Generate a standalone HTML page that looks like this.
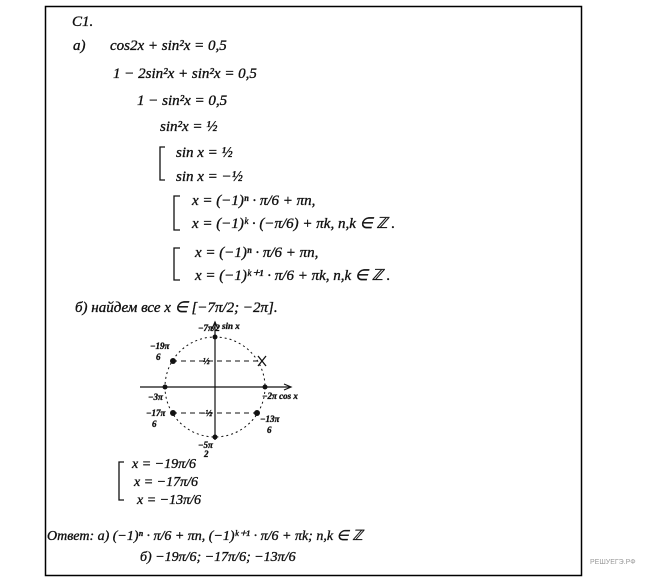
<!DOCTYPE html>
<html><head><meta charset="utf-8"><style>
html,body{margin:0;padding:0;background:#fff;}
svg{display:block}
text{font-family:"Liberation Serif",serif;font-style:italic;fill:#111;stroke:#111;stroke-width:0.35;}
</style></head><body>
<svg width="650" height="580" viewBox="0 0 650 580" xmlns="http://www.w3.org/2000/svg">
<rect x="45.5" y="6.5" width="536" height="569" fill="none" stroke="#000" stroke-width="1.5"/>
<g fill="none" stroke="#111" stroke-width="1.3">
<path d="M165 147 H160 V180 H165"/>
<path d="M180 196 H174 V230 H180"/>
<path d="M180 248 H174 V280 H180"/>
<path d="M124 462 H119 V500 H124"/>
</g>
<g font-size="15">
<text x="72" y="26">C1.</text>
<text x="73" y="50">a)</text>
<text x="110" y="50">cos2x + sin²x = 0,5</text>
<text x="113" y="78">1 − 2sin²x + sin²x = 0,5</text>
<text x="137" y="105">1 − sin²x = 0,5</text>
<text x="160" y="131">sin²x = ½</text>
<text x="176" y="157">sin x = ½</text>
<text x="176" y="181">sin x = −½</text>
<text x="192" y="205">x = (−1)ⁿ · π/6 + πn,</text>
<text x="192" y="228">x = (−1)ᵏ · (−π/6) + πk, n,k ∈ ℤ .</text>
<text x="195" y="257">x = (−1)ⁿ · π/6 + πn,</text>
<text x="195" y="280">x = (−1)ᵏ⁺¹ · π/6 + πk, n,k ∈ ℤ .</text>
<text x="75" y="312">б)   найдем  все  x ∈ [−7π/2; −2π].</text>
</g>
<g stroke="#111" fill="none">
<line x1="140" y1="387" x2="290" y2="387" stroke-width="1.2"/>
<path d="M284 384 L291 387 L284 390" stroke-width="1.2"/>
<line x1="215" y1="440" x2="215" y2="322" stroke-width="1.2"/>
<path d="M212 329 L215 322 L218 329" stroke-width="1.2"/>
<circle cx="215" cy="387" r="50" stroke-dasharray="2,3" stroke-width="1"/>
<line x1="172" y1="361" x2="258" y2="361" stroke-dasharray="5,4"/>
<line x1="172" y1="413" x2="258" y2="413" stroke-dasharray="5,4"/>
<path d="M258 356 l8 10 M266 356 l-8 10" stroke-width="1.3"/>
</g>
<g fill="#111">
<circle cx="215" cy="337" r="2.5"/><circle cx="215" cy="437" r="2.5"/>
<circle cx="165" cy="387" r="2.5"/><circle cx="265" cy="387" r="2.5"/>
<circle cx="173" cy="361" r="3"/><circle cx="173" cy="413" r="3"/><circle cx="257" cy="413" r="3"/>
</g>
<g font-size="9" font-weight="bold">
<text x="198" y="331">−7π/2</text>
<text x="222" y="329">sin x</text>
<text x="150" y="349">−19π</text><text x="156" y="360">6</text>
<text x="203" y="364">½</text>
<text x="148" y="400">−3π</text>
<text x="262" y="399">−2π  cos x</text>
<text x="200" y="416">−½</text>
<text x="146" y="416">−17π</text><text x="152" y="427">6</text>
<text x="260" y="422">−13π</text><text x="267" y="433">6</text>
<text x="198" y="448">−5π</text><text x="204" y="457">2</text>
</g>
<g font-size="14">
<text x="132" y="468">x = −19π/6</text>
<text x="134" y="486">x = −17π/6</text>
<text x="137" y="504">x = −13π/6</text>
<text x="47" y="540">Ответ:  a)  (−1)ⁿ · π/6 + πn,  (−1)ᵏ⁺¹ · π/6 + πk;  n,k ∈ ℤ</text>
<text x="140" y="561">б)  −19π/6;  −17π/6;  −13π/6</text>
</g>
<text x="590" y="564" font-size="7" style="fill:#999;stroke:none;font-style:normal;font-family:'Liberation Sans',sans-serif">РЕШУЕГЭ.РФ</text>
</svg>
</body></html>
